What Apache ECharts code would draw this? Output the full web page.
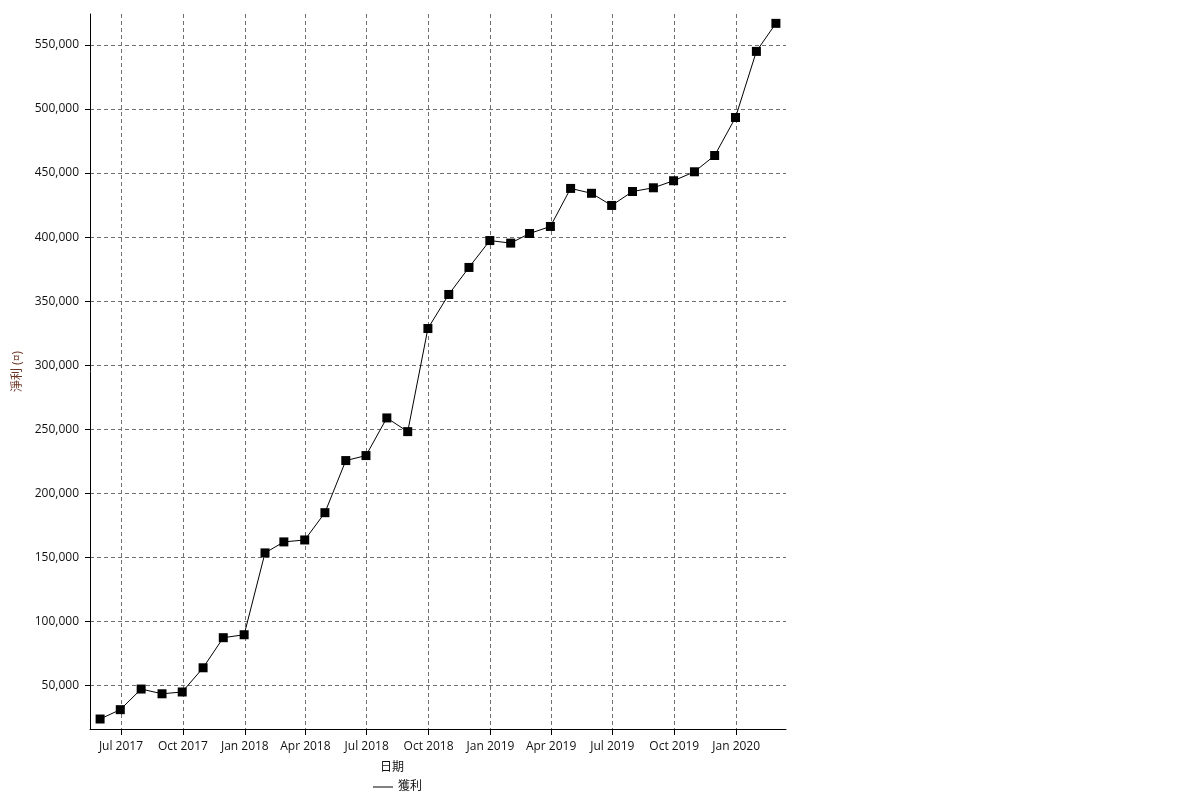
<!DOCTYPE html>
<html>
<head>
<meta charset="utf-8">
<script src="https://cdn.jsdelivr.net/npm/echarts@6/dist/echarts.min.js"></script>
<style>
html,body{margin:0;padding:0;background:#fff;}
#chart{width:1200px;height:800px;}
</style>
</head>
<body>
<div id="chart"></div>
<script>
// Data (month-end dates) and net profit values
const dates = [
  '2017-05-31','2017-06-30','2017-07-31','2017-08-31','2017-09-30','2017-10-31','2017-11-30','2017-12-31',
  '2018-01-31','2018-02-28','2018-03-31','2018-04-30','2018-05-31','2018-06-30','2018-07-31','2018-08-31',
  '2018-09-30','2018-10-31','2018-11-30','2018-12-31',
  '2019-01-31','2019-02-28','2019-03-31','2019-04-30','2019-05-31','2019-06-30','2019-07-31','2019-08-31',
  '2019-09-30','2019-10-31','2019-11-30','2019-12-31',
  '2020-01-31','2020-02-29'
];
const profit = [
  23700, 31000, 47100, 43400, 44800, 63700, 87200, 89500,
  153400, 162000, 163500, 184800, 225500, 229400, 258800, 248100,
  328600, 355200, 376300, 397300,
  395300, 402800, 408300, 438000, 434200, 424700, 435600, 438500,
  444000, 451000, 463700, 493400,
  545000, 566900
];
const xTickDates = ['2017-07-01','2017-10-01','2018-01-01','2018-04-01','2018-07-01','2018-10-01',
  '2019-01-01','2019-04-01','2019-07-01','2019-10-01','2020-01-01'];
const xTickLabels = ['Jul 2017','Oct 2017','Jan 2018','Apr 2018','Jul 2018','Oct 2018',
  'Jan 2019','Apr 2019','Jul 2019','Oct 2019','Jan 2020'];
const yTicks = [50000,100000,150000,200000,250000,300000,350000,400000,450000,500000,550000];
const seriesName = '獲利';
const xName = '日期';
const yName = '淨利 (¤)';

function toTs(s){ const p = s.split('-').map(Number); return Date.UTC(p[0], p[1]-1, p[2]); }
const xTickTs = xTickDates.map(toTs);
const seriesData = dates.map((d,i)=>[toTs(d), profit[i]]);

const FONT = '"Open Sans", "Noto Sans CJK TC", sans-serif';
const gridLine = {show:true, lineStyle:{color:'#707070', type:[4,3], width:1}};

const chart = echarts.init(document.getElementById('chart'), null, {renderer:'canvas'});
chart.setOption({
  animation:false,
  backgroundColor:'#fff',
  textStyle:{fontFamily:FONT},
  grid:{left:90, right:414, top:14, bottom:71, containLabel:false},
  legend:{
    data:[{name:seriesName, icon:'rect'}],
    left:368, bottom:2,
    itemWidth:20, itemHeight:1, itemGap:0,
    textStyle:{color:'#111', fontSize:12, fontFamily:FONT}
  },
  xAxis:{
    type:'value',
    min:toTs('2017-05-16'), max:toTs('2020-03-15'),
    name:xName, nameLocation:'middle', nameGap:33,
    nameTextStyle:{color:'#111', fontSize:12, fontFamily:FONT, padding:[0,92,0,0]},
    axisLine:{show:true, onZero:false, lineStyle:{color:'#000', width:1}},
    axisTick:{show:true, length:6, lineStyle:{color:'#000'}, customValues:xTickTs},
    axisLabel:{
      color:'#111', fontSize:12, fontFamily:FONT, margin:12, hideOverlap:false,
      customValues:xTickTs,
      formatter:function(v){ const i = xTickTs.indexOf(v); return i>=0 ? xTickLabels[i] : ''; }
    },
    splitLine:gridLine
  },
  yAxis:{
    type:'value',
    min:15900, max:574200,
    name:yName, nameLocation:'middle', nameGap:63, nameRotate:90,
    nameTextStyle:{color:'#6a3424', fontSize:12, fontFamily:FONT},
    axisLine:{show:true, lineStyle:{color:'#000', width:1}},
    axisTick:{show:true, length:5, lineStyle:{color:'#000'}, customValues:yTicks},
    axisLabel:{
      color:'#111', fontSize:12, fontFamily:FONT, margin:11,
      customValues:yTicks,
      formatter:function(v){ return Number(v).toLocaleString('en-US'); }
    },
    splitLine:gridLine
  },
  series:[{
    name:seriesName,
    type:'line',
    data:seriesData,
    symbol:'rect',
    symbolSize:9,
    showAllSymbol:true,
    lineStyle:{color:'#000', width:1},
    itemStyle:{color:'#000'},
    emphasis:{disabled:true}
  }]
});
</script>
</body>
</html>
